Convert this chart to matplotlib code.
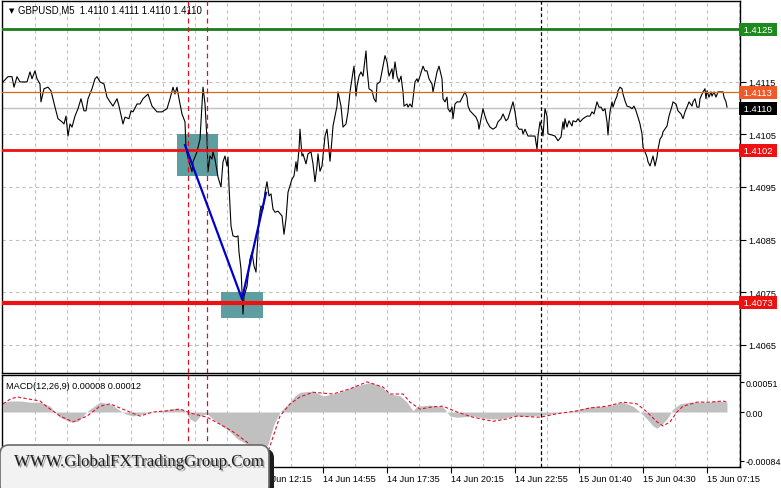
import matplotlib
matplotlib.use("Agg")
import matplotlib.pyplot as plt
import matplotlib.patheffects as pe
from matplotlib.patches import Rectangle, FancyBboxPatch
from matplotlib.transforms import blended_transform_factory

plt.rcParams['font.family'] = ['Liberation Sans', 'DejaVu Sans']

# price trace: bar number (5 min bars) and close
bar_idx = [-1, 1.5, 3.5, 4.5, 6, 7.5, 11, 12.5, 13.5, 15, 16, 17.5, 18, 19.5, 21.5, 23, 25, 26.5, 28.5, 29.5,
           30.5, 31.5, 32.5, 33.5, 35, 36.5, 38, 39.5, 40.5, 41.5, 43.5, 45, 46, 47.5, 49.5, 51, 52.5, 54, 56, 57,
           59, 60, 62, 63, 64, 66, 67.5,
           69, 71.5, 73.5, 76, 78.5, 81, 82.5, 84, 85, 86, 87, 88.5, 90, 90.5, 92, 93.5, 94, 96, 97.5, 98,
           99, 100, 101, 101.5,
           102.5, 103.5, 104, 105, 106.5, 108, 109, 110, 111, 111.5, 112, 113, 114, 115.5, 116.5, 117, 118, 118.5,
           119, 119.5, 121, 122.5, 123.5, 124.5, 125.5, 126, 127, 128, 129, 130, 131, 132, 133, 134, 135, 136.5,
           138.5, 139.5, 140.5, 141.5, 143.5, 144.5, 145.5, 146, 147, 147.5,
           148.5, 149, 150.5, 151.5, 153, 154, 155, 156, 156.5, 157.5, 158.5, 159, 160, 161, 161.5, 162.5, 163.5,
           164, 166, 166.5, 168, 169, 170.5, 171.5, 172.5, 174, 174.5, 175.5, 176, 177, 178, 179, 180, 180.5, 181,
           182, 183.5, 184.5, 185.5, 186, 187.5, 189, 190, 191, 192, 193.5, 194, 195, 196, 197,
           198, 199, 199.5, 201, 201.5, 202.5, 203.5, 204, 205, 206, 206.5, 207.5, 209, 210, 211, 212, 213.5, 214,
           215, 216, 217, 218.5, 219, 220, 221, 221.5, 222.5, 223.5, 224, 225, 226, 227.5, 229, 230, 231, 231.5,
           232.5, 234, 235.5, 236.5, 237, 238.5, 239, 240, 241, 242.5, 244, 245.5, 246.5,
           248, 249, 250.5, 251.5, 253, 254, 255, 256, 257, 258.5, 259, 260, 261, 261.5, 264, 265, 266, 266.5,
           267.5, 268.5, 269, 270, 271, 271.5, 273.5, 275, 276.5, 278, 279, 279.5, 280, 281, 282, 283.5, 284,
           285.5, 286.5, 287.5, 289, 291, 292.5, 293.5, 294.5, 295.5, 296, 297,
           298, 299, 300, 301, 301.5, 302, 302.5, 303.5, 304, 305, 306, 306.5, 307.5, 308.5, 309, 310, 311, 312.5,
           313.5, 314.5, 315.5, 316.5, 317.5, 318.5, 319, 320, 321, 321.5, 322.5, 323.5, 324, 325, 326, 326.5,
           327.5, 328.5, 329, 331, 332, 333.5, 334, 335.5, 336.5, 338, 339, 340, 341, 342, 343.5, 344, 345, 346,
           347, 347.5, 348.5, 349, 350, 350.5, 351, 352, 353, 353.5, 354.5, 355.5, 356.5, 357.5, 359, 359.5,
           360.5, 361]
close = [1.41150, 1.41160, 1.41160, 1.41140, 1.41160, 1.41150, 1.41150, 1.41169, 1.41156, 1.41171,
         1.41156, 1.41146, 1.41112, 1.41137, 1.41140, 1.41133, 1.41102, 1.41080, 1.41074, 1.41070,
         1.41085, 1.41047, 1.41070, 1.41064, 1.41085, 1.41099, 1.41118, 1.41095, 1.41095, 1.41118,
         1.41137, 1.41156, 1.41160, 1.41150, 1.41146, 1.41121, 1.41112, 1.41104, 1.41118, 1.41104,
         1.41070, 1.41083, 1.41080, 1.41095, 1.41093, 1.41108, 1.41108,
         1.41118, 1.41127, 1.41104, 1.41093, 1.41093, 1.41099, 1.41118, 1.41140, 1.41127, 1.41140,
         1.41118, 1.41089, 1.41074, 1.41022, 1.40998, 1.40979, 1.40998, 1.41017, 1.41041, 1.41074,
         1.41140, 1.41108, 1.41041, 1.40979,
         1.41009, 1.41003, 1.41017, 1.41003, 1.40969, 1.40950, 1.40998, 1.41009, 1.40990, 1.41007,
         1.40952, 1.40876, 1.40857, 1.40855, 1.40857, 1.40826, 1.40794, 1.40750, 1.40708, 1.40742,
         1.40761, 1.40813, 1.40826, 1.40800, 1.40788, 1.40826, 1.40889, 1.40914, 1.40908, 1.40940,
         1.40960, 1.40933, 1.40937, 1.40908, 1.40902, 1.40904, 1.40895, 1.40860, 1.40889, 1.40940,
         1.40965, 1.40971, 1.40998, 1.40980, 1.41022, 1.41060,
         1.41009, 1.41013, 1.40994, 1.41013, 1.41017, 1.40994, 1.40960, 1.40990, 1.41013, 1.40980,
         1.40990, 1.41009, 1.41047, 1.41060, 1.41041, 1.40999, 1.41041, 1.41066, 1.41104, 1.41131,
         1.41104, 1.41064, 1.41070, 1.41093, 1.41131, 1.41169, 1.41180, 1.41123, 1.41142, 1.41161,
         1.41169, 1.41161, 1.41194, 1.41209, 1.41175, 1.41137, 1.41133, 1.41118, 1.41112, 1.41146,
         1.41150, 1.41180, 1.41200, 1.41188, 1.41161, 1.41175, 1.41156, 1.41188, 1.41161, 1.41150,
         1.41161, 1.41131, 1.41104, 1.41108, 1.41102, 1.41108, 1.41102, 1.41118, 1.41150, 1.41156,
         1.41150, 1.41161, 1.41180, 1.41171, 1.41171, 1.41156, 1.41146, 1.41131, 1.41150, 1.41169,
         1.41180, 1.41156, 1.41118, 1.41112, 1.41121, 1.41099, 1.41093, 1.41102, 1.41080, 1.41108,
         1.41112, 1.41112, 1.41123, 1.41131, 1.41121, 1.41104, 1.41095, 1.41089, 1.41083, 1.41074,
         1.41060, 1.41089, 1.41099, 1.41085, 1.41074, 1.41064, 1.41060, 1.41064, 1.41074,
         1.41080, 1.41089, 1.41076, 1.41080, 1.41099, 1.41112, 1.41093, 1.41066, 1.41060, 1.41060,
         1.41051, 1.41060, 1.41051, 1.41047, 1.41047, 1.41047, 1.41022, 1.41047, 1.41074, 1.41060,
         1.41047, 1.41099, 1.41085, 1.41051, 1.41049, 1.41047, 1.41038, 1.41045, 1.41074, 1.41060,
         1.41080, 1.41064, 1.41076, 1.41066, 1.41076, 1.41074, 1.41080, 1.41074, 1.41080, 1.41085,
         1.41085, 1.41093, 1.41089, 1.41104, 1.41112, 1.41102,
         1.41102, 1.41095, 1.41099, 1.41074, 1.41049, 1.41074, 1.41093, 1.41112, 1.41102, 1.41114,
         1.41123, 1.41133, 1.41140, 1.41137, 1.41127, 1.41114, 1.41104, 1.41102, 1.41099, 1.41104,
         1.41095, 1.41083, 1.41070, 1.41051, 1.41026, 1.41017, 1.41007, 1.40998, 1.40990, 1.41003,
         1.41009, 1.40990, 1.41007, 1.41022, 1.41041, 1.41047, 1.41055, 1.41066, 1.41085, 1.41104,
         1.41112, 1.41108, 1.41095, 1.41089, 1.41080, 1.41093, 1.41102, 1.41112, 1.41104, 1.41112,
         1.41118, 1.41102, 1.41102, 1.41118, 1.41127, 1.41131, 1.41137, 1.41118, 1.41133, 1.41121,
         1.41131, 1.41123, 1.41131, 1.41121, 1.41131, 1.41131, 1.41131, 1.41121, 1.41112, 1.41102]
assert len(bar_idx) == len(close)

# MACD(12,26,9): main histogram and signal line
macd_bars = [-1, 2.5, 7.5, 12.5, 17.5, 22.5, 25, 27.5, 32.5, 36.5, 40, 42.5, 47.5, 52.5, 56.5, 60, 64, 69, 74,
             79, 86, 90, 92.5, 95, 97.5, 101, 104, 108.5, 112.5, 116.5, 121, 126.5, 131.5, 134.5, 137.5, 142.5,
             145, 147.5, 154, 159, 164, 169, 174, 179, 182.5, 187.5, 192.5, 197.5, 201, 204, 206, 212.5, 219,
             222.5, 226, 234, 242.5, 247.5, 254, 262.5, 269, 276, 284, 292.5, 301, 309, 314, 317.5, 321, 324,
             326, 328.5, 331, 334, 337.5, 342.5, 351, 356, 361]
macd_main = [0.00017, 0.00019, 0.00019, 0.00017, 0.00017, 0.00010, 0.0, -0.00009, -0.00017, -0.00016,
             -0.00003, 0.00005, 0.00017, 0.00014, 0.00005, -0.00003, -0.00007, -0.00003, 0.0, 0.00003,
             0.00007, 0.00002, -0.00012, -0.00017, -0.00007, -0.00003, -0.00012, -0.00024, -0.00034, -0.00047,
             -0.00055, -0.00084, -0.00055, -0.00021, 0.0, 0.00017, 0.00028, 0.00034, 0.00036, 0.00028,
             0.00031, 0.00036, 0.00043, 0.00048, 0.00051, 0.00045, 0.00031, 0.00028, 0.00017, 0.00002,
             0.00010, 0.00012, 0.00009, -0.00007, -0.00009, -0.00007, -0.00012, -0.00012, -0.00007, -0.00007,
             -0.00005, -0.00002, 0.00002, 0.00009, 0.00010, 0.00017, 0.00010, 0.0, -0.00012, -0.00024,
             -0.00028, -0.00021, -0.00012, 0.00005, 0.00014, 0.00017, 0.00017, 0.00019, 0.00017]
sig_bars = [-1, 2.5, 6, 12.5, 17.5, 21, 27.5, 34, 41, 47.5, 52.5, 61, 67.5, 74, 81, 87.5, 94, 101, 107.5, 114,
            121, 126.5, 131.5, 137.5, 142.5, 147.5, 154, 164, 172.5, 181, 189, 192.5, 199, 202.5, 207.5, 214,
            219, 226, 234, 244, 251, 256, 267.5, 276, 286, 292.5, 301, 309, 316, 321, 326, 329, 332.5, 336,
            339, 346, 352.5, 359, 361]
macd_signal = [0.00014, 0.00022, 0.00026, 0.00022, 0.00019, 0.00009, -0.00007, -0.00017, -0.00007, 0.00010,
               0.00014, 0.00002, -0.00007, 0.0, 0.00002, 0.00005, -0.00003, -0.00009, -0.00021, -0.00034,
               -0.00052, -0.00067, -0.00069, -0.00007, 0.00014, 0.00026, 0.00034, 0.00031, 0.00040, 0.00052,
               0.00043, 0.00031, 0.00031, 0.00017, 0.00005, 0.00009, 0.00010, 0.0, -0.00009, -0.00016,
               -0.00012, -0.00007, -0.00009, -0.00003, 0.00002, 0.00007, 0.00010, 0.00017, 0.00014, 0.0,
               -0.00017, -0.00024, -0.00017, 0.0, 0.00010, 0.00017, 0.00017, 0.00019, 0.00017]

time_bars = [127, 159, 191, 223, 255, 287, 319, 351]
time_labels = ['14 Jun 12:15', '14 Jun 14:55', '14 Jun 17:35', '14 Jun 20:15',
               '14 Jun 22:55', '15 Jun 01:40', '15 Jun 04:30', '15 Jun 07:15']
price_ticks = [1.4065, 1.4075, 1.4085, 1.4095, 1.4105, 1.4115]
macd_ticks = [-0.00084, 0.0, 0.00051]
macd_tick_labels = ['-0.00084', '0.00', '0.00051']

level_prices = [1.4125, 1.4113, 1.4102, 1.4073]
bid = 1.4110
zone_bars = [(86, 106.5), (108, 129)]
zone_prices = [(1.4097, 1.4105), (1.4070, 1.4075)]
path_bars = [90, 118.5, 130.5]
path_prices = [1.4103, 1.40737, 1.40939]
red_vlines = [91.25, 101]
black_vline = 268

# styles
level_colors = ['#1c7c1c', '#d2691e', '#ee1111', '#ee1111']
level_widths = [2.0, 0.9, 2.0, 3.0]
label_bg = ['#1e8a1e', '#f05a28', '#ee1111', '#ee1111']
grid_kw = dict(color='#c0c0c0', ls=(0, (3, 3)), lw=0.8)

W, H = 781, 489
fig = plt.figure(figsize=(W / 100, H / 100), dpi=100)


def px_box(x0, y0, x1, y1):
    return [x0 / W, 1 - y1 / H, (x1 - x0) / W, (y1 - y0) / H]


ax = fig.add_axes(px_box(2, 2, 740, 374))
axm = fig.add_axes(px_box(2, 376, 740, 468), sharex=ax)
ax.set_xlim(-1.5, 367.5)
ax.set_ylim(1.40596, 1.41304)
axm.set_ylim(-0.000948, 0.000638)

for a in (ax, axm):
    a.set_xticks(range(15, 368, 16), minor=True)
    a.grid(True, which='both', axis='x', **grid_kw)
    a.yaxis.tick_right()
    a.tick_params(axis='y', length=4, width=0.8, pad=2, labelsize=6.6)
    a.tick_params(axis='x', which='minor', length=0)
    for s in a.spines.values():
        s.set_linewidth(1)
        s.set_color('black')
    a.set_axisbelow(True)

axm.set_xticks(time_bars)
axm.set_xticklabels(time_labels)
axm.tick_params(axis='x', which='major', length=4, width=0.8, pad=1, labelsize=6.6)
axm.tick_params(axis='y', length=3, pad=1, labelsize=6.4)
for lbl in axm.get_xticklabels():
    lbl.set_ha('left')
ax.tick_params(axis='x', which='both', length=0, labelbottom=False)

ax.set_yticks(price_ticks)
ax.set_yticklabels([f'{p:.4f}' for p in price_ticks])
ax.grid(True, axis='y', **grid_kw)
axm.set_yticks(macd_ticks)
axm.set_yticklabels(macd_tick_labels)

# zones and lines
for (b0, b1), (p0, p1) in zip(zone_bars, zone_prices):
    ax.add_patch(Rectangle((b0, p0), b1 - b0, p1 - p0, fc='#5f9ea0', ec='none', zorder=1))
ax.axhline(bid, color='#c0c0c0', lw=1, zorder=1.5)
ax.plot(bar_idx, close, color='black', lw=0.8, zorder=2)
for p, c, w in zip(level_prices, level_colors, level_widths):
    ax.axhline(p, color=c, lw=w, zorder=3)
for a in (ax, axm):
    for b in red_vlines:
        a.axvline(b, color='#d81020', ls=(0, (4, 3)), lw=0.9, zorder=3)
    a.axvline(black_vline, color='black', ls=(0, (3, 2)), lw=0.9, zorder=3)
ax.plot(path_bars, path_prices, color='#0000cd', lw=1.6, zorder=4)

trans = blended_transform_factory(ax.transAxes, ax.transData)
for p, bg in zip(level_prices + [bid], label_bg + ['black']):
    ax.text(1.0015, p, f' {p:.4f} ', transform=trans, ha='left', va='center', fontsize=6.8,
            color='white', bbox=dict(boxstyle='square,pad=0.22', fc=bg, ec='none'),
            clip_on=False, zorder=10)

ax.text(0.0095, 0.976, '\u25bc', transform=ax.transAxes, fontsize=5, va='center',
        family=['DejaVu Sans'])
ax.text(0.0217, 0.976, 'GBPUSD,M5  1.4110 1.4111 1.4110 1.4110', transform=ax.transAxes,
        fontsize=6.9, va='center')

# MACD panel
axm.fill_between(macd_bars, macd_main, 0, color='#c0c0c0', lw=0, zorder=1)
axm.plot(sig_bars, macd_signal, color='#e0102a', ls=(0, (3, 2)), lw=0.8, zorder=2)
axm.text(0.0054, 0.891, 'MACD(12,26,9) 0.00008 0.00012', transform=axm.transAxes,
         fontsize=6.6, va='center')

# watermark box in pixel space
ov = fig.add_axes([0, 0, 1, 1], zorder=20)
ov.set_xlim(0, W)
ov.set_ylim(H, 0)
ov.axis('off')
ov.add_patch(FancyBboxPatch((4, 450), 270, 50, boxstyle='round,pad=0,rounding_size=9',
                            fc='#1c1c1c', ec='none'))
ov.add_patch(FancyBboxPatch((0, 446), 269, 50, boxstyle='round,pad=0,rounding_size=9',
                            fc='#f2f2f2', ec='#6a6a6a', lw=1.2))
ov.text(14, 463, 'WWW.GlobalFXTradingGroup.Com', family=['Liberation Serif'], fontsize=12.1,
        color='#1e1e1e', va='center',
        path_effects=[pe.withSimplePatchShadow(offset=(1.2, -1.2), shadow_rgbFace='#8a8a8a', alpha=0.8)])

fig.savefig('out.png', dpi=100, facecolor='white')
